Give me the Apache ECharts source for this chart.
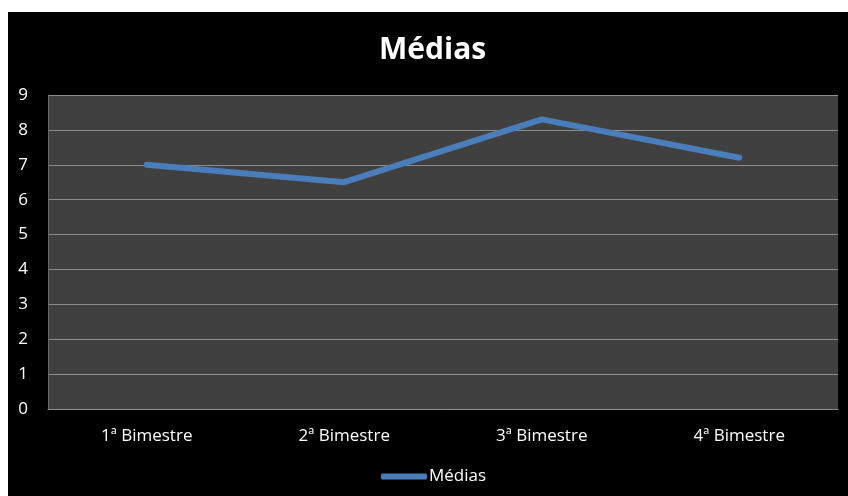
<!DOCTYPE html>
<html>
<head>
<meta charset="utf-8">
<script src="https://cdn.jsdelivr.net/npm/echarts@6/dist/echarts.min.js"></script>
<style>
  html, body { margin: 0; padding: 0; background: #ffffff; width: 848px; height: 496px; overflow: hidden; }
  #chart { position: absolute; left: 8px; top: 12px; width: 840px; height: 484px; background: #000000; }
</style>
</head>
<body>
<div id="chart"></div>
<script>
// Average grade per bimester
const categories = ['1ª Bimestre', '2ª Bimestre', '3ª Bimestre', '4ª Bimestre'];
const medias = [7.0, 6.5, 8.3, 7.2];
const seriesName = 'Médias';

const chart = echarts.init(document.getElementById('chart'), null, { renderer: 'canvas' });
const font = '"Open Sans", "Noto Sans", sans-serif';

chart.setOption({
  backgroundColor: '#000000',
  animation: false,
  title: {
    text: 'Médias',
    left: 366,
    top: 18,
    textStyle: { color: '#ffffff', fontSize: 30, fontWeight: 'bold', fontFamily: font }
  },
  legend: {
    data: [seriesName],
    bottom: 6,
    left: 368,
    icon: 'roundRect',
    itemWidth: 46,
    itemHeight: 6,
    itemGap: 10,
    textStyle: { color: '#ffffff', fontSize: 17, fontFamily: font, padding: [0, 0, 0, -3] }
  },
  grid: {
    left: 40, right: 10, top: 83, bottom: 87,
    show: true, backgroundColor: '#404040', borderWidth: 0
  },
  xAxis: {
    type: 'category',
    data: categories,
    boundaryGap: true,
    axisLine: { show: true, lineStyle: { color: '#8c8c8c', width: 1 } },
    axisTick: { show: false },
    axisLabel: { color: '#ffffff', fontSize: 17, fontFamily: font, margin: 19 }
  },
  yAxis: {
    type: 'value',
    min: 0, max: 9, interval: 1,
    axisLine: { show: true, lineStyle: { color: '#6a6a6a', width: 1 } },
    axisTick: { show: false },
    axisLabel: { color: '#ffffff', fontSize: 17, fontFamily: font, margin: 20 },
    splitLine: { show: true, lineStyle: { color: '#8c8c8c', width: 1 } }
  },
  series: [{
    name: seriesName,
    type: 'line',
    data: medias,
    symbol: 'none',
    lineStyle: { color: '#4a7ebb', width: 6, cap: 'round', join: 'round' },
    itemStyle: { color: '#4a7ebb' }
  }]
});
</script>
</body>
</html>
